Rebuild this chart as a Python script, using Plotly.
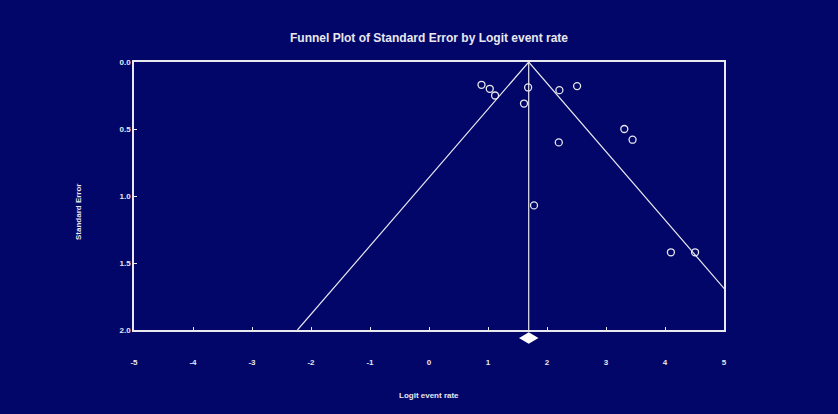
import plotly.graph_objects as go

# Study estimates: logit event rate and its standard error
logit_rate = [0.89, 1.03, 1.12, 1.68, 1.61, 2.21, 2.51, 3.31, 3.45, 2.20, 1.78, 4.10, 4.51]
std_error = [0.17, 0.20, 0.25, 0.19, 0.31, 0.21, 0.18, 0.50, 0.58, 0.60, 1.07, 1.42, 1.42]

# Pooled estimate with its 95% confidence limits
pooled = 1.69
pooled_low = 1.55
pooled_high = 1.83

x_ticks = [-5, -4, -3, -2, -1, 0, 1, 2, 3, 4, 5]
y_ticks = [0.0, 0.5, 1.0, 1.5, 2.0]
se_max = 2.0
z = 1.96

BG = "#020668"
FG = "#e8e8ee"
FONT = "Liberation Sans, Arial, sans-serif"

fig = go.Figure()

# Pseudo 95% confidence funnel around the pooled estimate
fig.add_trace(go.Scatter(
    x=[pooled - z * se_max, pooled, pooled + z * se_max],
    y=[se_max, 0, se_max],
    mode="lines", line=dict(color=FG, width=1.2),
    hoverinfo="skip", showlegend=False,
))
# Vertical line at the pooled estimate
fig.add_trace(go.Scatter(
    x=[pooled, pooled], y=[0, se_max],
    mode="lines", line=dict(color=FG, width=1.2),
    hoverinfo="skip", showlegend=False,
))
# Individual studies
fig.add_trace(go.Scatter(
    x=logit_rate, y=std_error, mode="markers",
    marker=dict(symbol="circle-open", size=7, color=FG, line=dict(width=1.3)),
    showlegend=False,
))

# Summary diamond below the x axis
dy = -0.030
h = 0.018
fig.add_shape(
    type="path", xref="x", yref="paper",
    path=(f"M {pooled_low},{dy} L {pooled},{dy + h} "
          f"L {pooled_high},{dy} L {pooled},{dy - h} Z"),
    fillcolor="white", line=dict(color="white", width=1.5),
)

fig.update_layout(
    width=838, height=414,
    margin=dict(l=134, r=114, t=62, b=84),
    paper_bgcolor=BG, plot_bgcolor=BG,
    font=dict(family=FONT, color=FG, size=8, weight="bold"),
    title=dict(
        text="Funnel Plot of Standard Error by Logit event rate",
        x=0.5, xref="paper", xanchor="center",
        y=1 - 38 / 414, yref="container", yanchor="middle",
        font=dict(family=FONT, size=12, color=FG, weight="bold"),
    ),
)
fig.update_xaxes(
    range=[-5, 5], tickvals=x_ticks, ticktext=[str(v) for v in x_ticks],
    showgrid=False, zeroline=False,
    showline=True, linecolor=FG, linewidth=1.5, mirror=True,
    ticks="inside", ticklen=3, tickcolor=FG, ticklabelstandoff=24,
    tickfont=dict(family=FONT, size=8, color=FG, weight="bold"),
)
fig.update_yaxes(
    range=[se_max, 0], tickvals=y_ticks, ticktext=[f"{v:.1f}" for v in y_ticks],
    showgrid=False, zeroline=False,
    showline=True, linecolor=FG, linewidth=1.5, mirror=True,
    ticks="inside", ticklen=3, tickcolor=FG,
    tickfont=dict(family=FONT, size=8, color=FG, weight="bold"),
)

# Axis titles
fig.add_annotation(
    text="Logit event rate", xref="paper", yref="paper",
    x=0.5, y=-65 / 268, xanchor="center", yanchor="middle",
    showarrow=False, font=dict(family=FONT, size=8, color=FG, weight="bold"),
)
fig.add_annotation(
    text="Standard Error", xref="paper", yref="paper",
    x=-56 / 590, y=1 - 150 / 268, xanchor="center", yanchor="middle",
    textangle=-90, showarrow=False,
    font=dict(family=FONT, size=8, color=FG, weight="bold"),
)

fig.write_html("out.html")
